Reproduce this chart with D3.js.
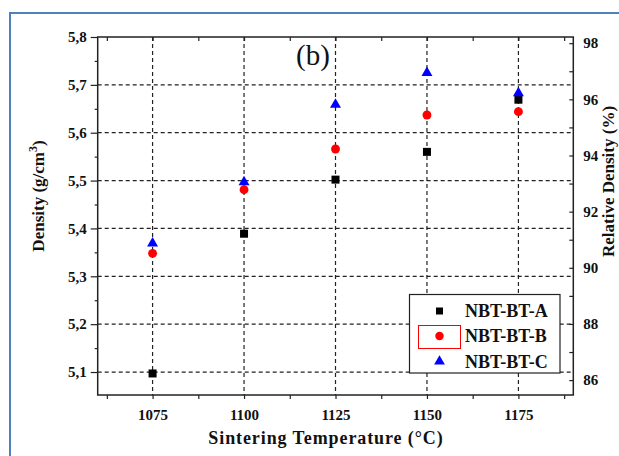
<!DOCTYPE html>
<html>
<head>
<meta charset="utf-8">
<script src="https://cdn.jsdelivr.net/npm/d3@7"></script>
<style>
  html, body { margin: 0; padding: 0; background: #fff; }
  svg { display: block; }
  text { font-family: "Liberation Serif", "Times New Roman", serif; }
</style>
</head>
<body>
<svg id="chart" width="619" height="456"></svg>
<script>
// Sintering temperatures (°C)
const temperatures = [1075, 1100, 1125, 1150, 1175];

// Measured densities (g/cm³) per composition
const densityA = [5.097, 5.389, 5.502, 5.560, 5.669];
const densityB = [5.348, 5.481, 5.566, 5.637, 5.644];
const densityC = [5.369, 5.497, 5.659, 5.725, 5.683];

const seriesNames = ["NBT-BT-A", "NBT-BT-B", "NBT-BT-C"];

// Axis tick values
const xMajorTicks = [1075, 1100, 1125, 1150, 1175];
const xMinorTicks = [1062.5, 1087.5, 1112.5, 1137.5, 1162.5, 1187.5];
const yMajorTicks = [5.1, 5.2, 5.3, 5.4, 5.5, 5.6, 5.7, 5.8];
const yMinorTicks = [5.15, 5.25, 5.35, 5.45, 5.55, 5.65, 5.75];
const relMajorTicks = [86, 88, 90, 92, 94, 96, 98];
const relMinorTicks = [87, 89, 91, 93, 95, 97];

const svg = d3.select("#chart");
const L = 97.7, R = 573.3, T = 37, B = 395;

const x = d3.scaleLinear().domain([1060, 1190]).range([L, R]);
const y = d3.scaleLinear().domain([5.052, 5.8]).range([B, T]);
const yRel = d3.scaleLinear().domain([85.47, 98.22]).range([B, T]);

const comma = d => d3.format(".1f")(d).replace(".", ",");
const axisColor = "#222";

// Outer figure frame
svg.append("path")
  .attr("d", "M10,460 L10,13 L625,13")
  .attr("fill", "none").attr("stroke", "#4f81bd").attr("stroke-width", 2);

// Dashed grid
const grid = svg.append("g").attr("stroke", "#222").attr("stroke-width", 1.2)
  .attr("stroke-dasharray", "4,3");
grid.selectAll("line.v").data(xMajorTicks).join("line")
  .attr("x1", d => x(d)).attr("x2", d => x(d)).attr("y1", T).attr("y2", B);
grid.selectAll("line.h").data(yMajorTicks.filter(d => d < 5.8)).join("line")
  .attr("class", "h")
  .attr("x1", L).attr("x2", R).attr("y1", d => y(d)).attr("y2", d => y(d));

function styleAxis(g) {
  g.select(".domain").remove();
  g.selectAll("line").attr("stroke", axisColor).attr("stroke-width", 1.2);
  g.selectAll("text").attr("fill", "#111").attr("font-weight", "bold")
    .attr("font-size", "15px");
}

// Bottom axis (outward ticks) with labels
svg.append("g").attr("transform", `translate(0,${B})`)
  .call(d3.axisBottom(x).tickValues(xMajorTicks).tickFormat(d3.format("d"))
    .tickSizeInner(4).tickSizeOuter(0).tickPadding(10))
  .call(styleAxis);
svg.append("g").attr("transform", `translate(0,${B})`)
  .call(d3.axisBottom(x).tickValues(xMinorTicks).tickFormat("").tickSizeInner(4).tickSizeOuter(0))
  .call(styleAxis);

// Top axis (inward ticks)
svg.append("g").attr("transform", `translate(0,${T})`)
  .call(d3.axisBottom(x).tickValues(xMajorTicks.concat(xMinorTicks)).tickFormat("")
    .tickSizeInner(4).tickSizeOuter(0))
  .call(styleAxis);

// Left axis: density
svg.append("g").attr("transform", `translate(${L},0)`)
  .call(d3.axisLeft(y).tickValues(yMajorTicks).tickFormat(comma)
    .tickSizeInner(7).tickSizeOuter(0).tickPadding(4))
  .call(styleAxis);
svg.append("g").attr("transform", `translate(${L},0)`)
  .call(d3.axisLeft(y).tickValues(yMinorTicks).tickFormat("").tickSizeInner(3).tickSizeOuter(0))
  .call(styleAxis);

// Right axis: relative density (inward ticks, labels outside)
svg.append("g").attr("transform", `translate(${R},0)`)
  .call(d3.axisRight(yRel).tickValues(relMajorTicks).tickFormat(d3.format("d"))
    .tickSizeInner(-4).tickSizeOuter(0).tickPadding(10))
  .call(styleAxis);
svg.append("g").attr("transform", `translate(${R},0)`)
  .call(d3.axisRight(yRel).tickValues(relMinorTicks).tickFormat("").tickSizeInner(-4).tickSizeOuter(0))
  .call(styleAxis);

// Plot frame
svg.append("rect").attr("x", L).attr("y", T).attr("width", R - L).attr("height", B - T)
  .attr("fill", "none").attr("stroke", axisColor).attr("stroke-width", 1.5);

// Markers
const sq = d3.symbol().type(d3.symbolSquare).size(64);
const ci = d3.symbol().type(d3.symbolCircle).size(62);
const tr = d3.symbol().type(d3.symbolTriangle).size(52);
const series = [
  { name: seriesNames[0], values: densityA, sym: sq, color: "#000000" },
  { name: seriesNames[1], values: densityB, sym: ci, color: "#ff0000" },
  { name: seriesNames[2], values: densityC, sym: tr, color: "#0000ff" }
];
series.forEach(s => {
  svg.append("g").selectAll("path").data(s.values).join("path")
    .attr("d", s.sym)
    .attr("transform", (d, i) => `translate(${x(temperatures[i])},${y(d)})`)
    .attr("fill", s.color);
});

// Panel tag
svg.append("text").attr("x", 296).attr("y", 65)
  .attr("font-size", "29px").attr("fill", "#111").text("(b)");

// Axis titles
svg.append("text")
  .attr("x", 326).attr("y", 444).attr("text-anchor", "middle")
  .attr("font-size", "18px").attr("font-weight", "bold").attr("fill", "#111")
  .attr("letter-spacing", "0.9px")
  .text("Sintering Temperature (°C)");

const yTitle = svg.append("text")
  .attr("transform", "translate(44,196) rotate(-90)").attr("text-anchor", "middle")
  .attr("font-size", "17px").attr("font-weight", "bold").attr("fill", "#111");
yTitle.append("tspan").text("Density (g/cm");
yTitle.append("tspan").attr("baseline-shift", "super").attr("font-size", "12px").text("3");
yTitle.append("tspan").text(")");

svg.append("text")
  .attr("transform", "translate(614,257) rotate(-90)").attr("text-anchor", "start")
  .attr("font-size", "17px").attr("font-weight", "bold").attr("fill", "#111")
  .text("Relative Density (%)");

// Legend
const leg = svg.append("g");
leg.append("rect").attr("x", 409.5).attr("y", 294.5).attr("width", 150.5).attr("height", 78.5)
  .attr("fill", "#fff").attr("stroke", "#222").attr("stroke-width", 1.2);
leg.append("rect").attr("x", 418.5).attr("y", 325.5).attr("width", 42).attr("height", 23)
  .attr("fill", "none").attr("stroke", "#ff0000").attr("stroke-width", 1);
const legY = [311, 336, 361.5];
const legSyms = [d3.symbol().type(d3.symbolSquare).size(49), d3.symbol().type(d3.symbolCircle).size(56),
                 d3.symbol().type(d3.symbolTriangle).size(50)];
series.forEach((s, i) => {
  leg.append("path").attr("d", legSyms[i]).attr("fill", s.color)
    .attr("transform", `translate(439.5,${legY[i]})`);
  leg.append("text").attr("x", 465).attr("y", legY[i]).attr("dy", "0.35em")
    .attr("font-size", "18px").attr("font-weight", "bold").attr("fill", "#111")
    .text(s.name);
});
</script>
</body>
</html>
